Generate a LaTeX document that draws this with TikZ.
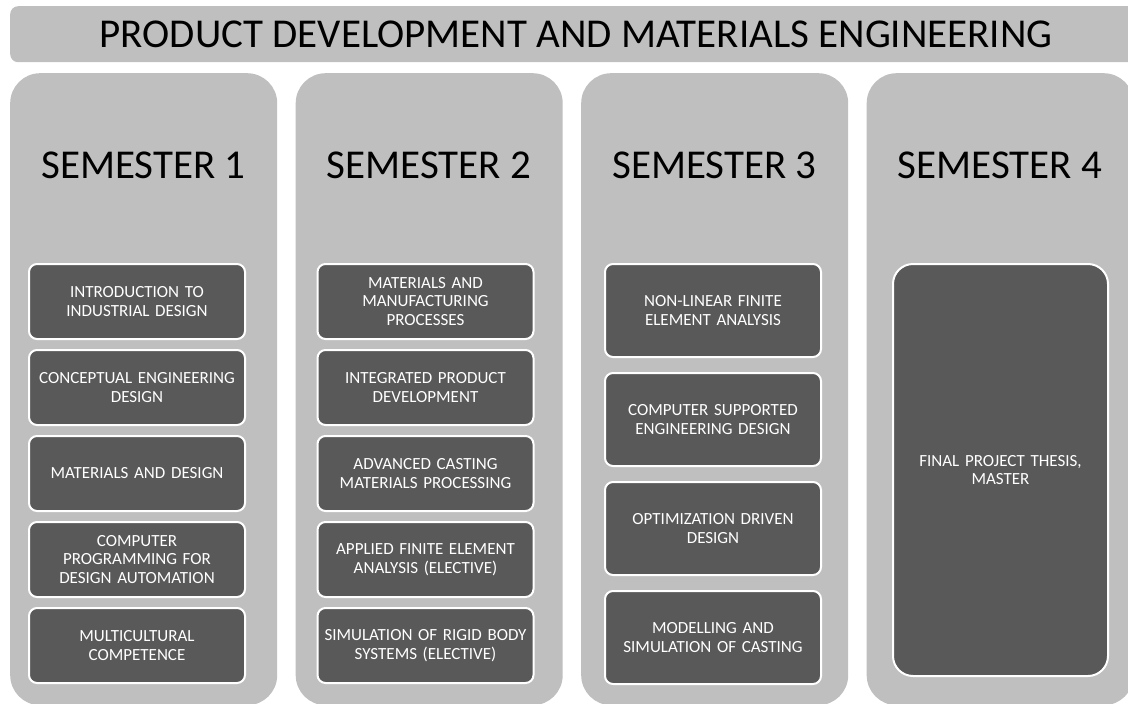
\documentclass[tikz,border=0pt]{standalone}
\usepackage{fontspec}
\setmainfont{Carlito}
\usetikzlibrary{positioning}
\definecolor{GrisClair}{RGB}{191,191,191}
\definecolor{GrisFonce}{RGB}{89,89,89}
\tikzset{bandeau/.style={rectangle, rounded corners=8pt, fill=GrisClair,
  minimum width=1132pt, minimum height=56pt, anchor=north west, inner sep=0pt,
  font=\fontsize{41}{48}\selectfont}}
\tikzset{colonne/.style={rectangle, rounded corners=30pt, fill=GrisClair,
  minimum width=267pt, minimum height=632pt, anchor=north west, inner sep=0pt}}
\tikzset{semestre/.style={anchor=base, inner sep=0pt, font=\fontsize{41}{48}\selectfont}}
\tikzset{cours/.style={rectangle, rounded corners=8pt,
  draw=white, fill=GrisFonce, line width=2pt, text=white,
  text width=210pt, align=center, minimum width=216pt, minimum height=75pt,
  inner sep=0pt, font=\fontsize{17}{18.7}\selectfont}}
\tikzset{cours3/.style={cours, minimum height=93pt}}
\tikzset{these/.style={cours, rounded corners=20pt, minimum width=215pt, minimum height=412pt}}

\begin{document}
\begin{tikzpicture}[x=1pt, y=-1pt, node distance=9pt]
\useasboundingbox (0,0) rectangle (1128,704);
\clip (0,0) rectangle (1128,704);
\node[bandeau] (titre) at (10,6) {PRODUCT DEVELOPMENT AND MATERIALS ENGINEERING};
\node[colonne] (col1) at (10,73) {};
\node[colonne] (col2) at (295.5,73) {};
\node[colonne] (col3) at (581,73) {};
\node[colonne] (col4) at (866.5,73) {};
\node[semestre] (s1) at (143.5,178) {SEMESTER 1};
\node[semestre] (s2) at (429,178) {SEMESTER 2};
\node[semestre] (s3) at (714.5,178) {SEMESTER 3};
\node[semestre] (s4) at (1000,178) {SEMESTER 4};
% semestre 1
\node[cours, anchor=north] (c1a) at (137,263) {INTRODUCTION TO\\INDUSTRIAL DESIGN};
\node[cours, below=of c1a] (c1b) {CONCEPTUAL ENGINEERING\\DESIGN};
\node[cours, below=of c1b] (c1c) {MATERIALS AND DESIGN};
\node[cours, below=of c1c] (c1d) {COMPUTER\\PROGRAMMING FOR\\DESIGN AUTOMATION};
\node[cours, below=of c1d] (c1e) {MULTICULTURAL\\COMPETENCE};
% semestre 2
\node[cours, anchor=north] (c2a) at (425.5,263) {MATERIALS AND\\MANUFACTURING\\PROCESSES};
\node[cours, below=of c2a] (c2b) {INTEGRATED PRODUCT\\DEVELOPMENT};
\node[cours, below=of c2b] (c2c) {ADVANCED CASTING\\MATERIALS PROCESSING};
\node[cours, below=of c2c] (c2d) {APPLIED FINITE ELEMENT\\ANALYSIS (ELECTIVE)};
\node[cours, below=of c2d] (c2e) {SIMULATION OF RIGID BODY\\SYSTEMS (ELECTIVE)};
% semestre 3
\node[cours3, anchor=north] (c3a) at (713,263) {NON-LINEAR FINITE\\ELEMENT ANALYSIS};
\node[cours3, below=14pt of c3a] (c3b) {COMPUTER SUPPORTED\\ENGINEERING DESIGN};
\node[cours3, below=14pt of c3b] (c3c) {OPTIMIZATION DRIVEN\\DESIGN};
\node[cours3, below=14pt of c3c] (c3d) {MODELLING AND\\SIMULATION OF CASTING};
% semestre 4
\node[these, anchor=north] (c4a) at (1000.5,263) {FINAL PROJECT THESIS,\\MASTER};
\end{tikzpicture}
\end{document}
